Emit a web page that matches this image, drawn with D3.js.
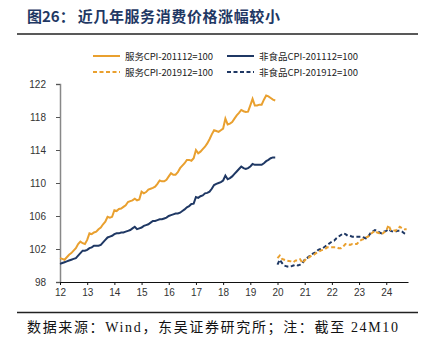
<!DOCTYPE html>
<html><head><meta charset="utf-8">
<script src="https://cdn.jsdelivr.net/npm/d3@7"></script>
<style>body{margin:0;background:#fff}svg{display:block}</style>
</head><body><svg id="c" width="423" height="353"></svg>
<script>
const title = "图26：近几年服务消费价格涨幅较小";
const source = "数据来源：Wind，东吴证券研究所；注：截至 24M10";
const seriesNames = ["服务CPI-201112=100","非食品CPI-201112=100","服务CPI-201912=100","非食品CPI-201912=100"];
const yTicks = [98,102,106,110,114,118,122];
const xTickYears = [2012,2013,2014,2015,2016,2017,2018,2019,2020,2021,2022,2023,2024];
// monthly, Jan 2012 - Dec 2019
const service2011 = [
 100.9,100.8,100.7,101.0,101.3,101.5,101.8,102.1,102.6,102.9,102.7,102.6,
 103.1,103.9,103.8,104.0,104.1,104.4,104.6,105.0,105.3,105.9,105.8,105.9,
 106.7,106.6,106.85,106.9,107.1,107.3,107.7,107.8,107.9,108.1,107.9,108.0,
 108.95,108.75,108.9,109.2,109.3,109.4,109.55,109.9,110.3,110.2,110.2,110.4,
 110.8,111.2,111.0,111.0,111.3,111.8,112.1,112.4,112.8,112.8,112.7,113.0,
 114.0,113.6,113.8,114.1,114.4,114.8,115.3,115.9,116.4,116.3,116.2,116.4,
 116.6,117.8,117.1,117.2,117.4,117.8,118.2,118.5,118.85,118.7,118.6,118.65,
 119.4,120.2,119.4,119.4,119.5,119.5,120.1,120.6,120.5,120.3,120.1,120.0];
const nonfood2011 = [
 100.2,100.3,100.4,100.5,100.6,100.7,100.8,100.9,101.2,101.5,101.8,101.8,
 101.9,102.1,102.2,102.4,102.4,102.4,102.5,102.8,103.1,103.4,103.5,103.6,
 103.8,103.9,103.9,104.0,104.0,104.1,104.2,104.3,104.5,104.7,104.4,104.5,
 104.6,104.8,104.9,105.0,105.2,105.4,105.4,105.5,105.6,105.6,105.7,105.8,
 106.0,106.1,106.2,106.3,106.3,106.4,106.6,106.8,107.05,107.2,107.45,107.5,
 108.3,108.2,108.4,108.5,108.75,108.8,108.95,109.3,109.75,109.9,110.0,110.1,
 110.3,110.9,110.45,110.6,110.8,111.1,111.4,111.7,112.0,111.8,111.7,111.8,
 112.0,112.3,112.2,112.2,112.2,112.2,112.4,112.65,112.8,113.0,113.1,113.1];
// monthly, Jan 2020 - Oct 2024
const service2019 = [
 100.9,101.2,100.8,100.7,100.6,100.55,100.5,100.4,100.6,100.6,100.75,100.3,
 100.6,100.9,101.0,101.2,101.3,101.5,101.6,101.8,101.9,102.0,102.2,102.2,
 102.2,102.2,102.2,102.1,102.1,102.3,102.6,102.6,102.5,102.6,102.6,102.6,
 102.9,103.1,103.2,103.4,103.5,103.8,104.0,104.2,104.0,103.9,103.8,104.0,
 104.2,104.9,104.3,104.3,104.2,104.4,104.7,104.5,104.4,104.4];
const nonfood2019 = [
 100.1,100.7,100.3,100.0,99.9,99.85,99.9,100.0,100.1,100.0,100.1,100.3,
 100.7,100.9,101.1,101.35,101.5,101.6,101.9,102.0,102.1,102.3,102.5,102.7,
 102.9,103.0,103.3,103.5,103.7,103.9,103.8,103.6,103.6,103.5,103.5,103.5,
 103.5,103.5,103.4,103.3,103.5,103.9,104.1,104.3,104.2,104.0,103.9,104.1,
 104.2,104.4,104.2,104.1,104.1,104.2,104.2,104.1,103.9,103.8];

const ORANGE = "#E9A02F", NAVY = "#1F3864";
const svg = d3.select("#c");
const x = d3.scaleLinear().domain([2012, 2024.8]).range([60, 408]);
const y = d3.scaleLinear().domain([98, 122]).range([282, 84]);

// title
const tt = svg.append("text").attr("x", 27).attr("y", 22)
  .attr("font-family", "Noto Sans CJK SC").attr("font-weight", "bold")
  .attr("font-size", 15).attr("fill", "#1F3864");
tt.append("tspan").text(title.slice(0, 4));
tt.append("tspan").attr("dx", 3).text(title.slice(4)).attr("letter-spacing", 0.6);
svg.append("line").attr("x1", 17).attr("x2", 418).attr("y1", 34).attr("y2", 34)
  .attr("stroke", "#222").attr("stroke-width", 1.5);
svg.append("line").attr("x1", 17).attr("x2", 418).attr("y1", 312.5).attr("y2", 312.5)
  .attr("stroke", "#222").attr("stroke-width", 1.5);
svg.append("text").attr("x", 27).attr("y", 332).text(source)
  .attr("font-family", "Liberation Serif, Noto Sans CJK SC").attr("font-size", 14)
  .attr("fill", "#111").attr("textLength", 371);

// axes
const yAxis = svg.append("g").attr("transform", "translate(60,0)")
  .call(d3.axisLeft(y).tickValues(yTicks).tickSize(4).tickPadding(10));
yAxis.select(".domain").attr("stroke", "#888").attr("stroke-width", 1.5);
yAxis.selectAll(".tick line").attr("stroke", "#555");
yAxis.selectAll("text").attr("font-family", "Liberation Sans").attr("font-size", 10).attr("fill", "#333");

const xAxis = svg.append("g").attr("transform", "translate(0,282)")
  .call(d3.axisBottom(x).tickValues(xTickYears).tickFormat(d => String(d % 100)).tickSize(3).tickPadding(4).tickSizeOuter(0));
xAxis.select(".domain").attr("stroke", "#111").attr("stroke-width", 1.2);
xAxis.selectAll(".tick line").attr("stroke", "#111");
xAxis.selectAll("text").attr("font-family", "Liberation Sans").attr("font-size", 10).attr("fill", "#333");

const line = d3.line().x(d => x(d.t)).y(d => y(d.v));
function toPts(arr, startYear) { return arr.map((v, i) => ({ t: startYear + i / 12, v })); }
const series = [
  { data: toPts(service2011, 2012), color: ORANGE, dash: null },
  { data: toPts(nonfood2011, 2012), color: NAVY, dash: null },
  { data: toPts(service2019, 2020), color: ORANGE, dash: "4,2.5" },
  { data: toPts(nonfood2019, 2020), color: NAVY, dash: "4,2.5" }
];
[1, 0, 3, 2].forEach(i => {
  const s = series[i];
  svg.append("path").datum(s.data).attr("d", line).attr("fill", "none")
    .attr("stroke", s.color).attr("stroke-width", 2)
    .attr("stroke-dasharray", s.dash);
});

// legend
const legPos = [[93, 56], [227, 56], [93, 72], [227, 72]];
seriesNames.forEach((n, i) => {
  const s = series[i];
  const [lx, ly] = legPos[i];
  svg.append("line").attr("x1", lx).attr("x2", lx + 27).attr("y1", ly).attr("y2", ly)
    .attr("stroke", s.color).attr("stroke-width", 2).attr("stroke-dasharray", s.dash);
  svg.append("text").attr("x", lx + 32).attr("y", ly + 3.5).text(n)
    .attr("font-family", "Noto Sans CJK SC").attr("font-size", 9.5).attr("fill", "#222")
    .attr("textLength", i % 2 ? 99 : 88);
});
</script></body></html>
